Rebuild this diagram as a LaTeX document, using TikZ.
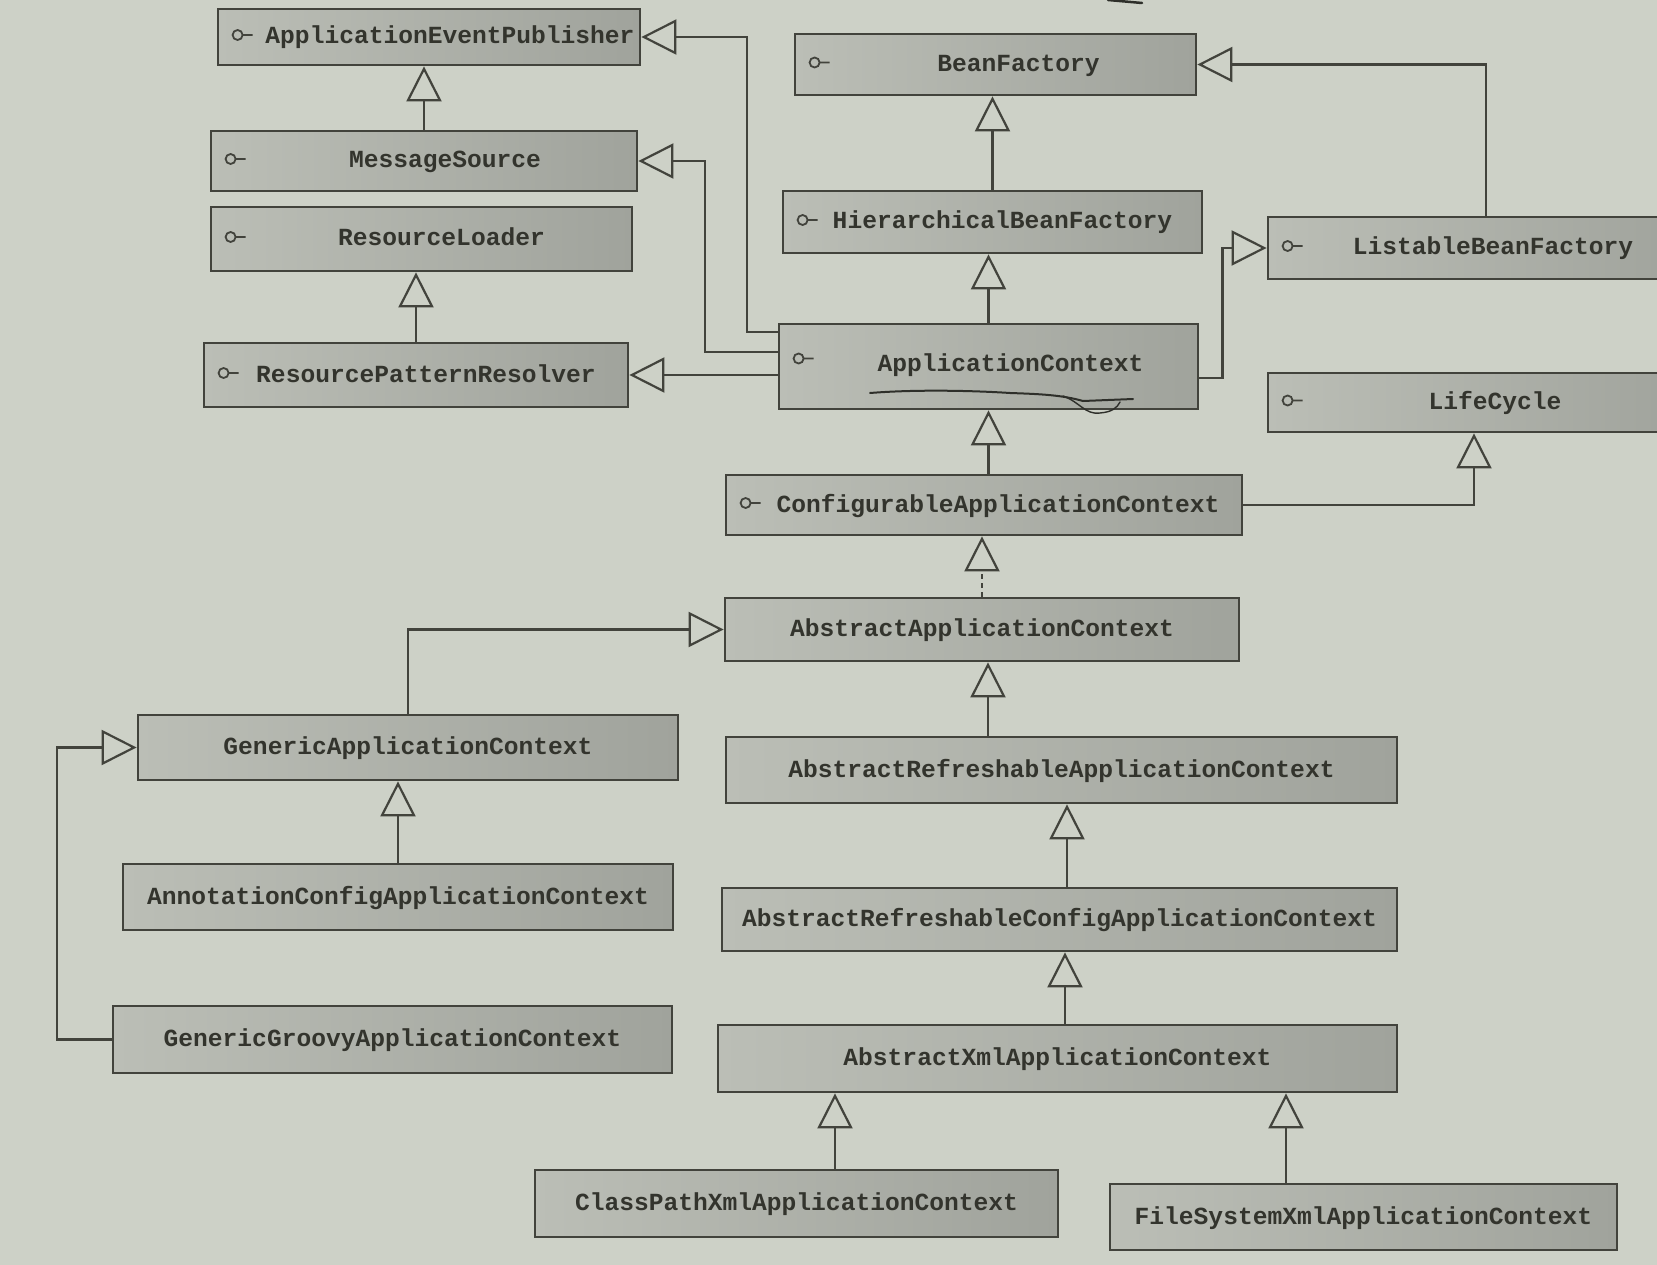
\documentclass[tikz,border=0pt]{standalone}
\usepackage{fontspec}
\usetikzlibrary{arrows.meta}
\newfontfamily\clsfont{Liberation Mono}
\definecolor{bg}{HTML}{CDD1C7}
\definecolor{boxl}{HTML}{BBBEB6}
\definecolor{boxr}{HTML}{A0A39C}
\definecolor{linec}{HTML}{42433C}
\definecolor{txtc}{HTML}{33342D}
\definecolor{pencil}{HTML}{2E2F2A}
\begin{document}
\begin{tikzpicture}[x=1pt,y=-1pt,
  clsbox/.style={draw=linec, line width=2.8pt, left color=boxl, right color=boxr, rectangle, inner sep=0pt},
  lbl/.style={font=\clsfont\bfseries\fontsize{24.6}{25}\selectfont, text=txtc, inner sep=0pt, anchor=base},
  inh/.style={draw=linec, line width=2.2pt, -{Triangle[open, length=35pt, width=35pt]}},
  real/.style={inh, dash pattern=on 5pt off 4pt},
  ifc/.style={draw=linec, line width=1.8pt},
  scrib/.style={draw=pencil, line width=2pt, line cap=round}]
\clip (0,0) rectangle (1657,1265);
\fill[bg] (0,0) rectangle (1657,1265);
\useasboundingbox (0,0) rectangle (1657,1265);

% ---- boxes ----
\node[clsbox, minimum width=422pt, minimum height=56pt] (aep) at (429,37) {};
\node[clsbox, minimum width=426pt, minimum height=60pt] (ms) at (424,161) {};
\node[clsbox, minimum width=421pt, minimum height=64pt] (rl) at (421.5,239) {};
\node[clsbox, minimum width=424pt, minimum height=64pt] (rpr) at (416,375) {};
\node[clsbox, minimum width=401pt, minimum height=61pt] (bf) at (995.5,64.5) {};
\node[clsbox, minimum width=419pt, minimum height=62pt] (hbf) at (992.5,222) {};
\node[clsbox, minimum width=422pt, minimum height=62pt] (lbf) at (1479,248) {};
\node[clsbox, minimum width=419pt, minimum height=85pt] (ac) at (988.5,366.5) {};
\node[clsbox, minimum width=422pt, minimum height=59pt] (lc) at (1479,402.5) {};
\node[clsbox, minimum width=516pt, minimum height=60pt] (cac) at (984,505) {};
\node[clsbox, minimum width=514pt, minimum height=63pt] (aac) at (982,629.5) {};
\node[clsbox, minimum width=540pt, minimum height=65pt] (gac) at (408,747.5) {};
\node[clsbox, minimum width=671pt, minimum height=66pt] (arac) at (1061.5,770) {};
\node[clsbox, minimum width=550pt, minimum height=66pt] (acac) at (398,897) {};
\node[clsbox, minimum width=675pt, minimum height=63pt] (arcac) at (1059.5,919.5) {};
\node[clsbox, minimum width=559pt, minimum height=67pt] (ggac) at (392.5,1039.5) {};
\node[clsbox, minimum width=679pt, minimum height=67pt] (axac) at (1057.5,1058.5) {};
\node[clsbox, minimum width=523pt, minimum height=67pt] (cpxac) at (796.5,1203.5) {};
\node[clsbox, minimum width=507pt, minimum height=66pt] (fsxac) at (1363.5,1217) {};

% ---- labels ----
\node[lbl] (aep-t) at ([xshift=21pt,yshift=-7pt]aep.center) {ApplicationEventPublisher};
\node[lbl] (ms-t) at ([xshift=21pt,yshift=-7pt]ms.center) {MessageSource};
\node[lbl] (rl-t) at ([xshift=20pt,yshift=-7pt]rl.center) {ResourceLoader};
\node[lbl] (rpr-t) at ([xshift=10pt,yshift=-7pt]rpr.center) {ResourcePatternResolver};
\node[lbl] (bf-t) at ([xshift=23pt,yshift=-7pt]bf.center) {BeanFactory};
\node[lbl] (hbf-t) at ([xshift=10pt,yshift=-7pt]hbf.center) {HierarchicalBeanFactory};
\node[lbl] (lbf-t) at ([xshift=14pt,yshift=-7pt]lbf.center) {ListableBeanFactory};
\node[lbl] (ac-t) at ([xshift=22pt,yshift=-5pt]ac.center) {ApplicationContext};
\node[lbl] (lc-t) at ([xshift=16pt,yshift=-7pt]lc.center) {LifeCycle};
\node[lbl] (cac-t) at ([xshift=14pt,yshift=-7pt]cac.center) {ConfigurableApplicationContext};
\node[lbl] (aac-t) at ([yshift=-7pt]aac.center) {AbstractApplicationContext};
\node[lbl] (gac-t) at ([yshift=-7pt]gac.center) {GenericApplicationContext};
\node[lbl] (arac-t) at ([yshift=-7pt]arac.center) {AbstractRefreshableApplicationContext};
\node[lbl] (acac-t) at ([yshift=-7pt]acac.center) {AnnotationConfigApplicationContext};
\node[lbl] (arcac-t) at ([yshift=-7pt]arcac.center) {AbstractRefreshableConfigApplicationContext};
\node[lbl] (ggac-t) at ([yshift=-7pt]ggac.center) {GenericGroovyApplicationContext};
\node[lbl] (axac-t) at ([yshift=-7pt]axac.center) {AbstractXmlApplicationContext};
\node[lbl] (cpxac-t) at ([yshift=-7pt]cpxac.center) {ClassPathXmlApplicationContext};
\node[lbl] (fsxac-t) at ([yshift=-7pt]fsxac.center) {FileSystemXmlApplicationContext};

% ---- interface icons ----
\foreach \b in {aep,ms,rl,rpr,bf,hbf,lbf,lc,cac}
  \draw[ifc] ([xshift=21pt,yshift=2pt]\b.west) circle[radius=5pt] ++(5pt,0) -- ++(10pt,0);
\draw[ifc] ([xshift=21pt,yshift=8pt]ac.west) circle[radius=5pt] ++(5pt,0) -- ++(10pt,0);

% ---- helper coordinates ----
\coordinate (c14) at ([xshift=6pt]aac.south);
\coordinate (c17) at ([xshift=5.5pt]arac.south);
\coordinate (c18) at ([xshift=5.5pt]arcac.south);
\coordinate (c19) at ([xshift=38.5pt]cpxac.north);
\coordinate (c20) at ([xshift=-77.5pt]fsxac.north);
\coordinate (c16) at ([xshift=-55pt]ggac.west);

% ---- connectors ----
\draw[inh] (ms.north) -- (ms.north |- aep.south);
\draw[inh] ([yshift=34.5pt]ac.west) -- ([xshift=-31pt,yshift=34.5pt]ac.west) |- (aep.east);
\draw[inh] ([yshift=14.5pt]ac.west) -- ([xshift=-73pt,yshift=14.5pt]ac.west) |- (ms.east);
\draw[inh] (ac.west |- rpr.east) -- (rpr.east);
\draw[inh] (rpr.north) -- (rpr.north |- rl.south);
\draw[inh] (hbf.north) -- (hbf.north |- bf.south);
\draw[inh] (ac.north) -- (ac.north |- hbf.south);
\draw[inh] ([xshift=7pt]lbf.north) |- (bf.east);
\draw[inh] ([yshift=-11.5pt]ac.east) -- ([xshift=23pt,yshift=-11.5pt]ac.east) |- (lbf.west);
\draw[inh] (ac.south |- cac.north) -- (ac.south);
\draw[inh] (cac.east) -| ([xshift=-5pt]lc.south);
\draw[real] (aac.north) -- (aac.north |- cac.south);
\draw[inh] (gac.north) |- (aac.west);
\draw[inh] (c14 |- arac.north) -- (c14);
\draw[inh] (acac.north) -- (acac.north |- gac.south);
\draw[inh] (ggac.west) -- (c16) |- (gac.west);
\draw[inh] (c17 |- arcac.north) -- (c17);
\draw[inh] (c18 |- axac.north) -- (c18);
\draw[inh] (c19) -- (c19 |- axac.south);
\draw[inh] (c20) -- (c20 |- axac.south);

% ---- pencil marks ----
\draw[scrib] (870,393) .. controls (920,389) and (980,391) .. (1010,393) .. controls (1040,394) and (1062,395) .. (1083,401) -- (1133,399);
\draw[scrib, line width=1.4pt] (1063,396) .. controls (1080,402) and (1085,415) .. (1100,413) .. controls (1112,412) and (1117,408) .. (1120,402);
\draw[scrib, line width=2.5pt] (1108,0) -- (1142,3);
\end{tikzpicture}
\end{document}
